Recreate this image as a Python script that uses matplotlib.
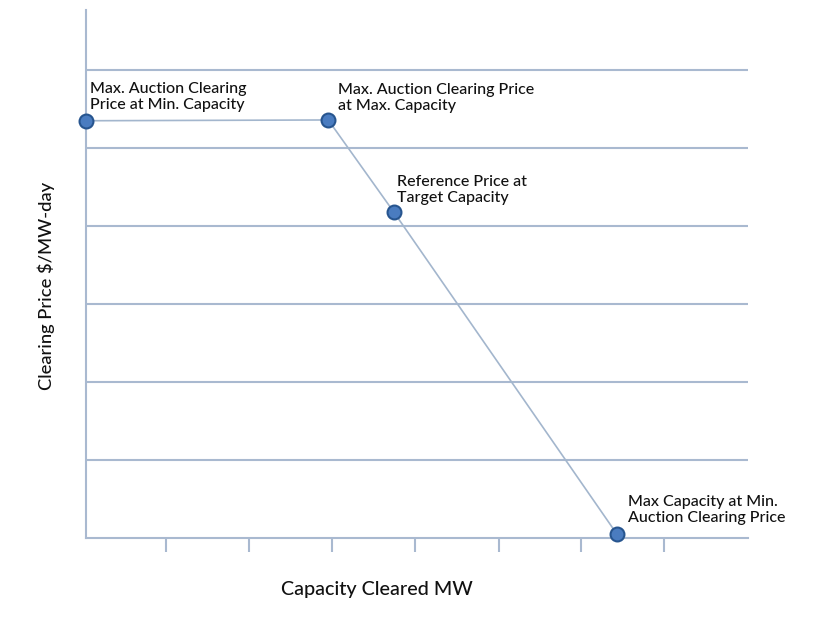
import matplotlib
matplotlib.use("Agg")
import matplotlib.pyplot as plt

# VRR-style demand curve points (capacity in tick units, price in grid units)
capacity = [0.0, 2.92, 3.71, 6.40]
price = [5.35, 5.36, 4.18, 0.05]
labels = ["Max. Auction Clearing\nPrice at Min. Capacity",
          "Max. Auction Clearing Price\nat Max. Capacity",
          "Reference Price at\nTarget Capacity",
          "Max Capacity at Min.\nAuction Clearing Price"]
label_offsets = [(4, 9), (10, 7), (3, 7), (11, 9)]  # pixels from point
x_ticks = [0.97, 1.97, 2.96, 3.97, 4.98, 5.97, 6.97]
y_grid = [1, 2, 3, 4, 5, 6]

GRID = "#a9b9d0"
LINE = "#a3b6cd"
DOT = "#4a7cc0"
EDGE = "#27558f"

plt.rcParams["font.family"] = ["Lato", "DejaVu Sans"]

fig = plt.figure(figsize=(8.26, 6.2), dpi=100)
ax = fig.add_axes([86 / 826, 82 / 620, 662 / 826, 528 / 620])
ax.set_xlim(0, 7.98)
ax.set_ylim(0, 6.77)

for y in y_grid:
    ax.axhline(y, color=GRID, lw=1.5, zorder=1)

ax.plot(capacity, price, color=LINE, lw=1.2, zorder=2)
ax.plot(capacity, price, "o", ms=10, mfc=DOT, mec=EDGE, mew=1.5,
        zorder=3, clip_on=False)

for x, y, s, (dx, dy) in zip(capacity, price, labels, label_offsets):
    ax.annotate(s, (x, y), xytext=(dx, dy), textcoords="offset pixels",
                ha="left", va="bottom", fontsize=11.5, linespacing=1.2,
                weight="medium", color="#111111")

for side in ("top", "right"):
    ax.spines[side].set_visible(False)
for side in ("left", "bottom"):
    ax.spines[side].set_color(GRID)
    ax.spines[side].set_linewidth(1.5)

ax.set_xticks(x_ticks)
ax.set_xticklabels([])
ax.set_yticks([])
ax.tick_params(axis="x", length=10, width=1.5, color=GRID, direction="out")

fig.text(377 / 826, 1 - 590 / 620, "Capacity Cleared MW", ha="center",
         va="center", fontsize=14.2, weight="medium", color="#111111")
fig.text(46 / 826, 1 - 286 / 620, "Clearing Price $/MW-day", ha="center",
         va="center", rotation=90, fontsize=13.2, weight="medium",
         color="#111111")

fig.savefig("out.png", dpi=100, facecolor="white")
